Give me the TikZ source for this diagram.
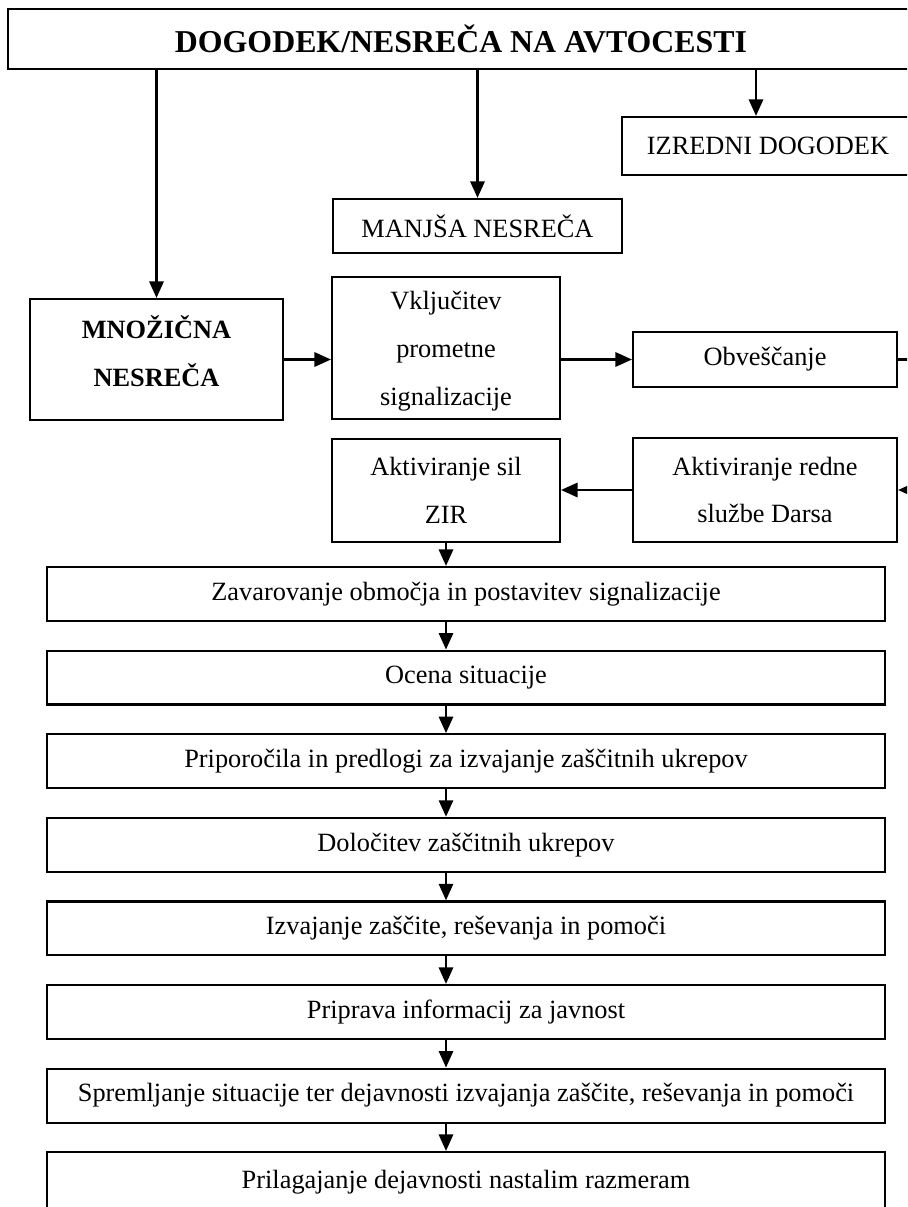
\documentclass[tikz,border=0pt]{standalone}
\usepackage{fontspec}
\setmainfont{Liberation Serif}
\usetikzlibrary{arrows.meta}

\begin{document}
\begin{tikzpicture}[
  x=0.016cm, y=-0.016cm,
  my_box/.style={
    draw,
    line width=1pt,
    rectangle,
    inner sep=0pt,
    align=center,
    font=\fontsize{12}{21.8}\selectfont,
  },
  wide_box/.style={
    my_box,
    minimum width=13.408cm,
    minimum height=0.864cm,
  },
  my_arrow/.style={
    line width=1pt,
    -{Triangle[length=7.5pt,width=6.5pt]},
  }
  ]

  \useasboundingbox (0,0) rectangle (907,1207);
  \clip (0,0) rectangle (907,1207);

  \node[my_box, minimum width=14.496cm, minimum height=0.96cm, font=\fontsize{14.5}{17}\selectfont\bfseries] (dogodek) at (461,39) {DOGODEK/NESREČA NA AVTOCESTI};

  \node[my_box, minimum width=4.672cm, minimum height=0.928cm] (izredni) at (768,146) {IZREDNI DOGODEK};
  \node[my_box, minimum width=4.624cm, minimum height=0.864cm] (manjsa) at (477.5,226) {MANJŠA NESREČA};
  \node[my_box, minimum width=4.048cm, minimum height=1.936cm, text depth=7.5pt, font=\fontsize{12}{21.8}\selectfont\bfseries] (mnozicna) at (156.5,359.5) {MNOŽIČNA\\NESREČA};

  \node[my_box, minimum width=3.648cm, minimum height=2.272cm, text depth=0pt] (vkljucitev) at (446,348) {Vključitev\\prometne\\signalizacije};
  \node[my_box, minimum width=4.224cm, minimum height=0.88cm] (obvescanje) at (765,359.5) {Obveščanje};
  \node[my_box, minimum width=3.648cm, minimum height=1.648cm] (zir) at (446,490.5) {Aktiviranje sil\\ZIR};
  \node[my_box, minimum width=4.224cm, minimum height=1.664cm] (darsa) at (765,490) {Aktiviranje redne\\službe Darsa};

  \node[wide_box] (zavarovanje) at (466,594) {Zavarovanje območja in postavitev signalizacije};
  \node[wide_box] (ocena) at (466,677.6) {Ocena situacije};
  \node[wide_box] (priporocila) at (466,761.2) {Priporočila in predlogi za izvajanje zaščitnih ukrepov};
  \node[wide_box] (dolocitev) at (466,844.8) {Določitev zaščitnih ukrepov};
  \node[wide_box] (izvajanje) at (466,928.4) {Izvajanje zaščite, reševanja in pomoči};
  \node[wide_box] (priprava) at (466,1012) {Priprava informacij za javnost};
  \node[wide_box] (spremljanje) at (466,1095.6) {Spremljanje situacije ter dejavnosti izvajanja zaščite, reševanja in pomoči};
  \node[wide_box, minimum height=0.96cm] (prilagajanje) at (466,1182) {Prilagajanje dejavnosti nastalim razmeram};

  % drops from the top box
  \coordinate (izredni_in) at (756,117);
  \coordinate (desni_rob) at (930,0);
  \draw[my_arrow] (mnozicna.north |- dogodek.south) -- (mnozicna.north);
  \draw[my_arrow] (manjsa.north |- dogodek.south) -- (manjsa.north);
  \draw[my_arrow] (izredni_in |- dogodek.south) -- (izredni_in |- izredni.north);

  \draw[my_arrow] (mnozicna.east) -- (mnozicna.east -| vkljucitev.west);
  \draw[my_arrow] (obvescanje.west -| vkljucitev.east) -- (obvescanje.west);
  \draw[my_arrow] (obvescanje.east) -- (obvescanje.east -| desni_rob) |- (darsa.east);
  \draw[my_arrow] (darsa.west) -- (darsa.west -| zir.east);
  \draw[my_arrow] (zir.south) -- (zir.south |- zavarovanje.north);

  \draw[my_arrow] (zavarovanje.south -| zir) -- (ocena.north -| zir);
  \draw[my_arrow] (ocena.south -| zir) -- (priporocila.north -| zir);
  \draw[my_arrow] (priporocila.south -| zir) -- (dolocitev.north -| zir);
  \draw[my_arrow] (dolocitev.south -| zir) -- (izvajanje.north -| zir);
  \draw[my_arrow] (izvajanje.south -| zir) -- (priprava.north -| zir);
  \draw[my_arrow] (priprava.south -| zir) -- (spremljanje.north -| zir);
  \draw[my_arrow] (spremljanje.south -| zir) -- (prilagajanje.north -| zir);

\end{tikzpicture}
\end{document}
